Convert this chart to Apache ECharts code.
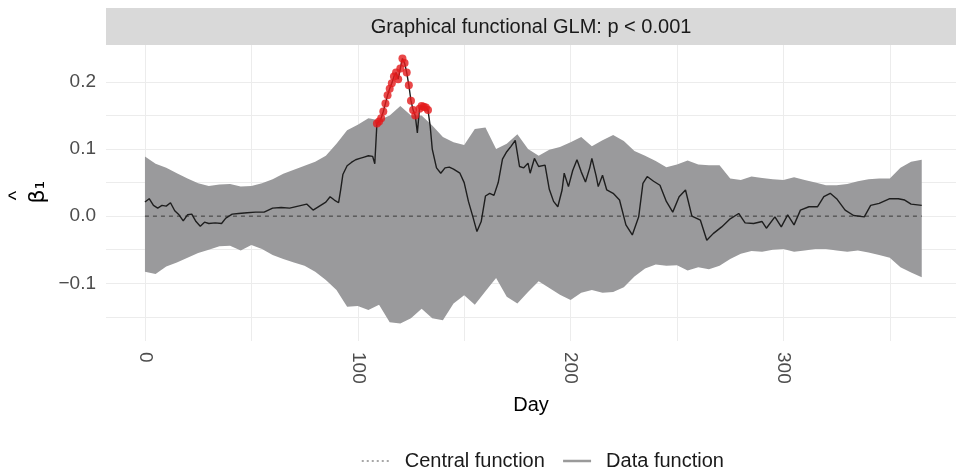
<!DOCTYPE html>
<html>
<head>
<meta charset="utf-8">
<script src="https://cdn.jsdelivr.net/npm/echarts@6/dist/echarts.min.js"></script>
<style>
    html, body { margin: 0; padding: 0; background: #fff; }
    #chart { width: 956px; height: 468px; }
</style>
</head>
<body>
<div id="chart"></div>
<script>
// envelope (grey band), sampled every 5 days
const bandDays = [0, 5, 10, 15, 20, 25, 30, 35, 40, 45, 50, 55, 60, 65, 70, 75, 80, 85, 90, 95,
    100, 105, 110, 115, 120, 125, 130, 135, 140, 145, 150, 155, 160, 165, 170, 175, 180, 185, 190, 195,
    200, 205, 210, 215, 220, 225, 230, 235, 240, 245, 250, 255, 260, 265, 270, 275, 280, 285, 290, 295,
    300, 305, 310, 315, 320, 325, 330, 335, 340, 345, 350, 355, 360, 365];
const upperVals = [0.089, 0.078, 0.072, 0.064, 0.056, 0.049, 0.045, 0.047, 0.048, 0.044,
    0.045, 0.049, 0.055, 0.063, 0.069, 0.075, 0.081, 0.090, 0.108, 0.128,
    0.136, 0.146, 0.143, 0.150, 0.164, 0.150, 0.150, 0.135, 0.118, 0.110,
    0.106, 0.130, 0.132, 0.100, 0.108, 0.122, 0.100, 0.090, 0.099, 0.103,
    0.110, 0.118, 0.104, 0.113, 0.121, 0.112, 0.097, 0.090, 0.082, 0.073,
    0.077, 0.083, 0.077, 0.076, 0.076, 0.056, 0.054, 0.059, 0.057, 0.055,
    0.054, 0.058, 0.054, 0.050, 0.046, 0.046, 0.048, 0.052, 0.055, 0.056,
    0.056, 0.072, 0.081, 0.084];
const lowerVals = [-0.083, -0.086, -0.075, -0.069, -0.062, -0.055, -0.050, -0.045, -0.044, -0.051,
    -0.043, -0.049, -0.058, -0.064, -0.069, -0.074, -0.083, -0.095, -0.110, -0.135,
    -0.134, -0.140, -0.132, -0.158, -0.160, -0.152, -0.138, -0.152, -0.155, -0.130,
    -0.118, -0.132, -0.112, -0.092, -0.120, -0.130, -0.113, -0.097, -0.107, -0.117,
    -0.125, -0.114, -0.110, -0.114, -0.113, -0.106, -0.090, -0.078, -0.072, -0.074,
    -0.073, -0.081, -0.076, -0.079, -0.074, -0.064, -0.056, -0.052, -0.053, -0.050,
    -0.049, -0.053, -0.051, -0.049, -0.049, -0.051, -0.053, -0.051, -0.054, -0.058,
    -0.062, -0.076, -0.084, -0.091];

// data function
const lineDays = [0, 2, 4, 6, 8, 10, 12, 14, 16, 18, 20, 22, 24, 26, 28, 30, 33, 36, 38, 41,
    44, 48, 52, 56, 60, 64, 68, 72, 76, 79, 82, 85, 87, 89, 91, 92, 93, 95, 97, 99,
    101, 103, 105, 107, 108, 109, 110, 111, 112, 113, 114, 115, 116, 117, 118, 119, 120, 121, 122, 123,
    124, 125, 126, 127, 128, 129, 130, 131, 132, 133, 134, 135, 137, 139, 141, 143, 145, 148, 150, 152,
    154, 156, 158, 160, 162, 164, 166, 168, 170, 172, 174, 176, 178, 180, 181, 183, 185, 188, 190, 192,
    194, 196, 197, 199, 201, 203, 205, 207, 209, 210, 212, 213, 215, 217, 220, 223, 226, 229, 232, 234,
    236, 239, 242, 245, 248, 251, 254, 257, 261, 264, 267, 271, 275, 279, 282, 286, 290, 292, 296, 299,
    302, 305, 308, 312, 316, 319, 322, 325, 329, 333, 338, 341, 345, 350, 354, 357, 360, 365];
const lineVals = [0.021, 0.026, 0.016, 0.012, 0.016, 0.015, 0.020, 0.008, 0.002, -0.007,
    0.002, 0.003, -0.008, -0.015, -0.009, -0.011, -0.010, -0.011, -0.003, 0.003,
    0.004, 0.005, 0.006, 0.006, 0.012, 0.013, 0.012, 0.015, 0.018, 0.009,
    0.015, 0.021, 0.029, 0.024, 0.020, 0.040, 0.062, 0.075, 0.080, 0.084,
    0.086, 0.088, 0.090, 0.089, 0.078, 0.138, 0.141, 0.146, 0.156, 0.168,
    0.180, 0.190, 0.198, 0.208, 0.214, 0.204, 0.220, 0.235, 0.228, 0.214,
    0.195, 0.172, 0.158, 0.150, 0.124, 0.160, 0.164, 0.163, 0.162, 0.158,
    0.135, 0.100, 0.072, 0.064, 0.072, 0.073, 0.070, 0.064, 0.050, 0.022,
    0.000, -0.023, -0.008, 0.030, 0.034, 0.031, 0.050, 0.085, 0.096, 0.104,
    0.113, 0.074, 0.072, 0.079, 0.064, 0.086, 0.074, 0.076, 0.040, 0.022,
    0.014, 0.039, 0.064, 0.044, 0.068, 0.084, 0.066, 0.051, 0.072, 0.086,
    0.060, 0.044, 0.061, 0.039, 0.034, 0.024, -0.013, -0.028, -0.001, 0.049,
    0.059, 0.052, 0.046, 0.022, 0.006, 0.029, 0.039, 0.000, -0.006, -0.036,
    -0.026, -0.016, -0.004, 0.004, -0.010, -0.011, -0.008, -0.018, -0.001, -0.016,
    0.002, -0.013, 0.009, 0.014, 0.014, 0.029, 0.034, 0.026, 0.009, 0.001,
    -0.001, 0.016, 0.019, 0.026, 0.026, 0.024, 0.018, 0.016];

// days where the data function leaves the envelope (red points)
const outDays = [109, 110, 111, 112, 113, 114, 115, 116, 117, 118, 119, 120, 121, 122, 123,
    124, 125, 126, 127, 129, 130, 131, 132, 133];

// central function
const centralDays = [0, 365];
const centralVals = [0, 0];

const xLabelTicks = [0, 100, 200, 300];
const xGridTicks = [0, 50, 100, 150, 200, 250, 300, 350];
const yLabelTicks = [-0.1, 0, 0.1, 0.2];
const yGridTicks = [-0.15, -0.1, -0.05, 0, 0.05, 0.1, 0.15, 0.2];

const FONT = 'Liberation Sans';

const chart = echarts.init(document.getElementById('chart'));

const dataLine = lineDays.map((d, i) => [d, lineVals[i]]);
const outPoints = outDays.map(d => [d, lineVals[lineDays.indexOf(d)]]);
const central = centralDays.map((d, i) => [d, centralVals[i]]);

// envelope polygon: upper edge forward, lower edge back
const renderBand = (params, api) => {
    const pts = [];
    for (let i = 0; i < bandDays.length; i++) {
        pts.push(api.coord([bandDays[i], upperVals[i]]));
    }
    for (let i = bandDays.length - 1; i >= 0; i--) {
        pts.push(api.coord([bandDays[i], lowerVals[i]]));
    }
    return {
        type: 'polygon',
        shape: { points: pts },
        style: { fill: '#9a9a9c', stroke: null }
    };
};

const option = {
    animation: false,
    backgroundColor: '#fff',
    textStyle: { fontFamily: FONT },
    grid: { left: 106, right: 0, top: 45, bottom: 127, outerBoundsMode: 'none', containLabel: false },
    graphic: [
        {
            type: 'rect',
            shape: { x: 106, y: 8, width: 850, height: 37 },
            style: { fill: '#d9d9d9' },
            silent: true
        },
        {
            type: 'text',
            x: 531,
            y: 27,
            style: {
                text: 'Graphical functional GLM: p < 0.001',
                fontSize: 20,
                fontFamily: FONT,
                fill: '#1a1a1a',
                align: 'center',
                verticalAlign: 'middle'
            },
            silent: true
        },
        {
            // y axis title: beta hat, subscript 1
            type: 'text',
            x: 30,
            y: 192,
            rotation: Math.PI / 2,
            style: {
                text: '{h|^}{sp| }\n{b|β₁}',
                align: 'center',
                verticalAlign: 'middle',
                rich: {
                    h: { fontSize: 20, lineHeight: 16, fontFamily: FONT, fill: '#000' },
                    sp: { width: 7, fontSize: 10, lineHeight: 16 },
                    b: { fontSize: 22, lineHeight: 26, fontFamily: 'DejaVu Sans', fill: '#000' }
                }
            },
            silent: true
        }
    ],
    legend: {
        top: 446,
        left: 356,
        itemWidth: 28,
        itemHeight: 14,
        itemGap: 17,
        textStyle: { fontSize: 20, color: '#1a1a1a', fontFamily: FONT, padding: [0, 0, 0, 10] },
        data: [
            {
                name: 'Central function',
                itemStyle: { opacity: 0 },
                lineStyle: { color: '#8a8a8a', type: [2, 3], width: 1.5 }
            },
            {
                name: 'Data function',
                itemStyle: { opacity: 0 },
                lineStyle: { color: '#9a9a9a', type: 'solid', width: 2.5 }
            }
        ]
    },
    xAxis: {
        type: 'value',
        min: -18.3,
        max: 381.1,
        name: 'Day',
        nameLocation: 'middle',
        nameGap: 54,
        nameTextStyle: { fontSize: 20, color: '#000', fontFamily: FONT },
        axisLine: { show: false },
        axisTick: { show: false, customValues: xGridTicks },
        axisLabel: {
            customValues: xLabelTicks,
            rotate: -90,
            margin: 11,
            padding: [6, 0, 0, 0],
            fontSize: 19,
            color: '#4d4d4d',
            fontFamily: FONT
        },
        splitLine: { show: true, lineStyle: { color: '#ececec', width: 1 } }
    },
    yAxis: {
        type: 'value',
        min: -0.186,
        max: 0.255,
        axisLine: { show: false },
        axisTick: { show: false, customValues: yGridTicks },
        axisLabel: {
            customValues: yLabelTicks,
            margin: 10,
            fontSize: 19,
            color: '#4d4d4d',
            fontFamily: FONT,
            formatter: v => (v < 0 ? '\u2212' : '') + Math.abs(v).toFixed(1)
        },
        splitLine: { show: true, lineStyle: { color: '#ececec', width: 1 } }
    },
    series: [
        {
            type: 'custom',
            renderItem: renderBand,
            data: [[0, 0]],
            silent: true,
            z: 1
        },
        {
            name: 'Central function',
            type: 'line',
            data: central,
            symbol: 'none',
            lineStyle: { color: '#4a4a4a', type: [4, 4], width: 1.2 },
            z: 2
        },
        {
            name: 'Data function',
            type: 'line',
            data: dataLine,
            symbol: 'none',
            lineStyle: { color: '#1e1e1e', width: 1.4 },
            z: 3
        },
        {
            type: 'scatter',
            data: outPoints,
            symbolSize: 8,
            itemStyle: { color: '#e41a1c' },
            z: 4
        }
    ]
};

chart.setOption(option);
</script>
</body>
</html>
